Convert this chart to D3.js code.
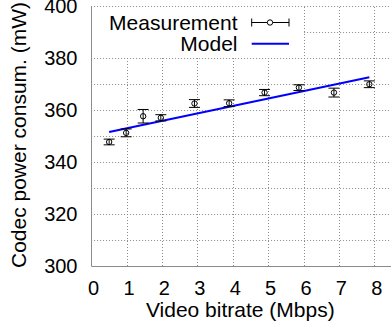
<!DOCTYPE html>
<html><head><meta charset="utf-8">
<script src="https://cdn.jsdelivr.net/npm/d3@7"></script>
<style>body{margin:0;background:#fff}svg{display:block;font-family:"Liberation Sans",Arial,sans-serif}</style>
</head><body>
<script>
const bitrate = [0.51, 0.99, 1.47, 1.97, 2.92, 3.90, 4.90, 5.87, 6.86, 7.86];
const power   = [347.7, 351.2, 357.6, 357.0, 362.5, 362.6, 366.7, 368.6, 366.7, 369.9];
const powerErr= [1.1, 1.5, 2.6, 1.2, 1.5, 1.3, 1.2, 1.1, 1.7, 1.3];
const modelX = [0.51, 7.86];
const modelY = [351.5, 372.6];
const xTicks = [0,1,2,3,4,5,6,7,8];
const yTicks = [300,320,340,360,380,400];
const yGrid = [300,310,320,330,340,350,360,370,380,390,400];

const W=391,H=329;
const svg=d3.select("body").append("svg").attr("width",W).attr("height",H);
const x=d3.scaleLinear().domain([0,8]).range([91.1,374.3]);
const y=d3.scaleLinear().domain([300,400]).range([266,6]);

const grid=svg.append("g").attr("stroke","#8c8c8c").attr("stroke-width",1).attr("stroke-dasharray","1,2");
grid.selectAll("line.h").data(yGrid.filter(d=>d>300)).join("line")
  .attr("x1",x(0)).attr("x2",W).attr("y1",d=>Math.round(y(d))+0.5).attr("y2",d=>Math.round(y(d))+0.5);
grid.selectAll("line.v").data(xTicks.filter(d=>d>0)).join("line")
  .attr("y1",y(300)).attr("y2",y(400)).attr("x1",d=>Math.round(x(d))+0.5).attr("x2",d=>Math.round(x(d))+0.5);

// legend background
svg.append("rect").attr("x",x(0)+1).attr("y",7).attr("width",210).attr("height",50).attr("fill","#fff");

// border (left, bottom)
svg.append("path").attr("d",`M${Math.round(x(0))+0.5},${y(400)}V${Math.round(y(300))+0.5}H${W}`)
  .attr("fill","none").attr("stroke","#8c8c8c").attr("stroke-width",1);

// tick labels
svg.append("g").selectAll("text").data(yTicks).join("text")
  .attr("x",77.5).attr("y",d=>y(d)).attr("dy","0.36em").attr("text-anchor","end")
  .attr("font-size",20).text(d=>d);
svg.append("g").selectAll("text").data(xTicks).join("text")
  .attr("x",d=>x(d)+2.5).attr("y",295).attr("text-anchor","middle")
  .attr("font-size",20).text(d=>d);

svg.append("text").attr("x",240.3).attr("y",316.5).attr("text-anchor","middle").attr("font-size",21).text("Video bitrate (Mbps)");
svg.append("text").attr("transform","translate(26,135) rotate(-90)").attr("text-anchor","middle").attr("font-size",21).text("Codec power consum. (mW)");

// model
svg.append("path").datum(modelX.map((d,i)=>[d,modelY[i]]))
  .attr("d",d3.line().x(d=>x(d[0])).y(d=>y(d[1])))
  .attr("fill","none").attr("stroke","#0000ff").attr("stroke-width",2);

// measurements
const pts=bitrate.map((d,i)=>({x:d,y:power[i],e:powerErr[i]}));
const g=svg.append("g").attr("stroke","#000").attr("stroke-width",1).attr("fill","none");
const pg=g.selectAll("g").data(pts).join("g");
pg.append("line").attr("x1",d=>x(d.x)).attr("x2",d=>x(d.x)).attr("y1",d=>y(d.y-d.e)).attr("y2",d=>y(d.y+d.e));
pg.append("line").attr("x1",d=>x(d.x)-5.5).attr("x2",d=>x(d.x)+5.5).attr("y1",d=>y(d.y-d.e)).attr("y2",d=>y(d.y-d.e));
pg.append("line").attr("x1",d=>x(d.x)-5.5).attr("x2",d=>x(d.x)+5.5).attr("y1",d=>y(d.y+d.e)).attr("y2",d=>y(d.y+d.e));
pg.append("circle").attr("cx",d=>x(d.x)).attr("cy",d=>y(d.y)).attr("r",2.7);

// legend
const lg=svg.append("g");
lg.append("text").attr("x",237.5).attr("y",30).attr("text-anchor","end").attr("font-size",21).text("Measurement");
lg.append("text").attr("x",237.5).attr("y",51).attr("text-anchor","end").attr("font-size",21).text("Model");
const le=lg.append("g").attr("stroke","#000").attr("fill","none");
le.append("line").attr("x1",251.7).attr("x2",289).attr("y1",22.5).attr("y2",22.5);
le.append("line").attr("x1",251.7).attr("x2",251.7).attr("y1",18.5).attr("y2",26.5);
le.append("line").attr("x1",289).attr("x2",289).attr("y1",18.5).attr("y2",26.5);
le.append("circle").attr("cx",270).attr("cy",22.5).attr("r",2.7).attr("fill","#fff");
lg.append("line").attr("x1",251.7).attr("x2",289).attr("y1",43.7).attr("y2",43.7).attr("stroke","#0000ff").attr("stroke-width",2);
</script>
</body></html>
